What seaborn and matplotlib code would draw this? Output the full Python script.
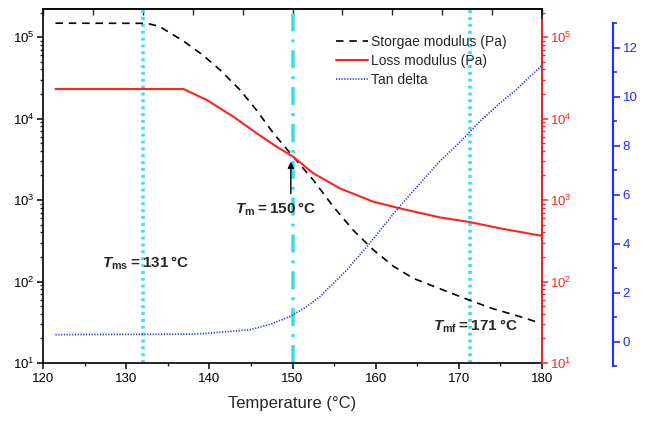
import numpy as np
import pandas as pd
import matplotlib
matplotlib.use("Agg")
import matplotlib.pyplot as plt
import matplotlib.ticker as mticker
import seaborn as sns

# Storage modulus (Pa) vs temperature (degC), as log10 values
storage_T = [121.5, 132.5, 134, 136.9, 139.2, 141.3, 143.7, 145.7, 147.7, 150.1,
             152.5, 154.9, 157.3, 159.7, 162.1, 164.5, 167.5, 171.3, 174, 177, 179.8]
storage_logG = [5.17, 5.168, 5.13, 4.95, 4.78, 4.595, 4.35, 4.10, 3.82, 3.53,
                3.245, 2.92, 2.63, 2.39, 2.19, 2.04, 1.92, 1.77, 1.67, 1.58, 1.49]

# Loss modulus (Pa), as log10 values
loss_T = [121.5, 131.7, 136.9, 139.7, 142.9, 145.7, 148.1, 150.1, 152.5, 155.7,
          159.7, 162.9, 167.7, 171.3, 175.1, 180]
loss_logG = [4.362, 4.362, 4.362, 4.227, 4.022, 3.818, 3.654, 3.53, 3.328, 3.143,
             2.98, 2.898, 2.787, 2.73, 2.65, 2.56]

# Tan delta
tan_T = [121.5, 138, 140, 142, 144.9, 147.3, 149.7, 151.5, 153.3, 156.5, 158.9,
         162.1, 164.5, 167.7, 170, 172.5, 175, 177, 178.5, 180]
tan_delta = [0.28, 0.30, 0.34, 0.40, 0.48, 0.70, 1.02, 1.38, 1.83, 2.91, 3.85,
             5.20, 6.14, 7.35, 8.10, 8.97, 9.75, 10.30, 10.80, 11.27]

# Transition temperatures (vertical markers) and their labels
trans_T = [132.0, 150.0, 171.3]
trans_style = [":", "-.", ":"]
trans_sub = ["ms", "m", "mf"]
trans_text = ["131", "150", "171"]

storage = pd.DataFrame({"T": storage_T, "G": np.power(10.0, storage_logG)})
loss = pd.DataFrame({"T": loss_T, "G": np.power(10.0, loss_logG)})
tan = pd.DataFrame({"T": tan_T, "tan": tan_delta})

sns.set_theme(style="ticks")
plt.rcParams["font.family"] = ["Liberation Sans", "DejaVu Sans"]
plt.rcParams["mathtext.fontset"] = "custom"
plt.rcParams["mathtext.it"] = "Liberation Sans:italic:bold"
plt.rcParams["mathtext.bf"] = "Liberation Sans:bold"
plt.rcParams["mathtext.rm"] = "Liberation Sans"

W, H = 648, 422
fig = plt.figure(figsize=(W / 100, H / 100), dpi=100)
fig.patch.set_facecolor("white")

def fx(px):
    return px / W

def fy(py):
    return 1 - py / H

ax = fig.add_axes([fx(43), fy(363), fx(542) - fx(43), fy(9) - fy(363)])
ax_r = ax.twinx()
ax_b = fig.add_axes([fx(43), fy(366), fx(542) - fx(43), fy(23) - fy(366)], sharex=ax)
ax_b.patch.set_alpha(0)

RED = "#ff2222"
BLUE = "#1f2bff"
CYAN = "#3fdde9"
LOG_TOP = 10 ** 5.344

# vertical markers
for t, ls in zip(trans_T, trans_style):
    ax.axvline(t, color=CYAN, ls=ls, lw=2.6, zorder=1,
               dashes=(0.8, 1.1) if ls == ":" else (5, 2.2, 0.8, 2.2))

sns.lineplot(data=storage, x="T", y="G", ax=ax, color="black", lw=1.2,
             label="Storgae modulus (Pa)", zorder=3)
ax.lines[-1].set_dashes((4.5, 3.5))
sns.lineplot(data=loss, x="T", y="G", ax=ax_r, color=RED, lw=1.5,
             label="Loss modulus (Pa)", zorder=3)
sns.lineplot(data=tan, x="T", y="tan", ax=ax_b, color="#2a38e6", lw=1.25,
             label="Tan delta", zorder=3)
ax_b.lines[-1].set_linestyle((0, (0.7, 0.9)))

for a in (ax, ax_r, ax_b):
    if a.get_legend() is not None:
        a.get_legend().remove()

# main axis (log, black)
ax.set_yscale("log")
ax.set_ylim(10, LOG_TOP)
ax.set_xlim(120, 180)
ax.set_xticks(np.arange(120, 181, 10))
ax.xaxis.set_minor_locator(mticker.MultipleLocator(5))
ax.yaxis.set_major_locator(mticker.LogLocator(base=10, numticks=10))
ax.yaxis.set_minor_locator(mticker.LogLocator(base=10, subs=np.arange(2, 10), numticks=20))
ax.tick_params(axis="both", which="major", direction="out", length=4, width=1.1,
               labelsize=9.5, colors="black", pad=2)
ax.tick_params(axis="both", which="minor", direction="out", length=2.2, width=1.0)
ax.tick_params(axis="x", pad=3)
for s in ax.spines.values():
    s.set_linewidth(1.2)
    s.set_color("black")
ax.set_xlabel("Temperature (°C)", fontsize=12, labelpad=8)
ax.set_ylabel("")

# top ticks
top = ax.secondary_xaxis("top")
top.set_xticks(np.arange(120, 181, 6))
top.tick_params(direction="in", length=4, width=1.0, labeltop=False)
top.spines["top"].set_linewidth(1.2)

# right red log axis
ax_r.set_yscale("log")
ax_r.set_ylim(10, LOG_TOP)
ax_r.yaxis.set_major_locator(mticker.LogLocator(base=10, numticks=10))
ax_r.yaxis.set_minor_locator(mticker.LogLocator(base=10, subs=np.arange(2, 10), numticks=20))
ax_r.tick_params(axis="y", which="major", direction="out", length=4, width=1.1,
                 labelsize=9.5, colors=RED, pad=2)
ax_r.tick_params(axis="y", which="minor", direction="out", length=2.2, width=1.0, colors=RED)
ax_r.spines["right"].set_color(RED)
ax_r.spines["right"].set_linewidth(1.3)
ax_r.spines["right"].set_bounds(10, 10 ** 5.21)
for k in ("left", "top", "bottom"):
    ax_r.spines[k].set_visible(False)
ax_r.set_ylabel("")

# far-right blue axis for tan delta
ax_b.set_ylim(-1, 13)
ax_b.yaxis.set_label_position("right")
ax_b.yaxis.tick_right()
ax_b.yaxis.set_major_locator(mticker.MultipleLocator(2))
ax_b.yaxis.set_minor_locator(mticker.MultipleLocator(1))
ax_b.spines["right"].set_position(("outward", 51))
ax_b.spines["right"].set_color(BLUE)
ax_b.spines["right"].set_linewidth(1.5)
for k in ("left", "top", "bottom"):
    ax_b.spines[k].set_visible(False)
ax_b.tick_params(axis="y", which="major", direction="out", length=5, width=1.2,
                 labelsize=9.5, colors=BLUE, pad=2)
ax_b.tick_params(axis="y", which="minor", direction="out", length=3, width=1.2, colors=BLUE)
ax_b.tick_params(axis="x", which="both", bottom=False, labelbottom=False)
ax_b.set_xlabel("")
ax_b.set_ylabel("")

# transition labels
label_pos = [(127.1, 10 ** 2.166), (143.1, 10 ** 2.828), (166.9, 10 ** 1.393)]
for (x, y), sub, val in zip(label_pos, trans_sub, trans_text):
    ax.text(x, y, r"$\mathit{T}_{\mathbf{%s}}$" % sub + "\u2009=\u2009" + val + "\u2009°C",
            fontsize=11, fontweight="bold", ha="left", va="baseline", zorder=5)

ax.annotate("", xy=(149.8, 10 ** 3.47), xytext=(149.8, 10 ** 3.08),
            arrowprops=dict(arrowstyle="-|>", color="black", lw=1.0,
                            mutation_scale=9, shrinkA=0, shrinkB=0), zorder=5)

# legend collecting the three curves
handles = [ax.lines[-1], ax_r.lines[-1], ax_b.lines[-1]]
labels = [h.get_label() for h in handles]
ax_b.legend(handles, labels, loc="upper left", bbox_to_anchor=(fx(336), fy(35)),
            bbox_transform=fig.transFigure, frameon=False, fontsize=10,
            borderpad=0, borderaxespad=0, handlelength=2.3, handletextpad=0.2,
            labelspacing=0.35)

fig.savefig("out.png", dpi=100, facecolor="white")
